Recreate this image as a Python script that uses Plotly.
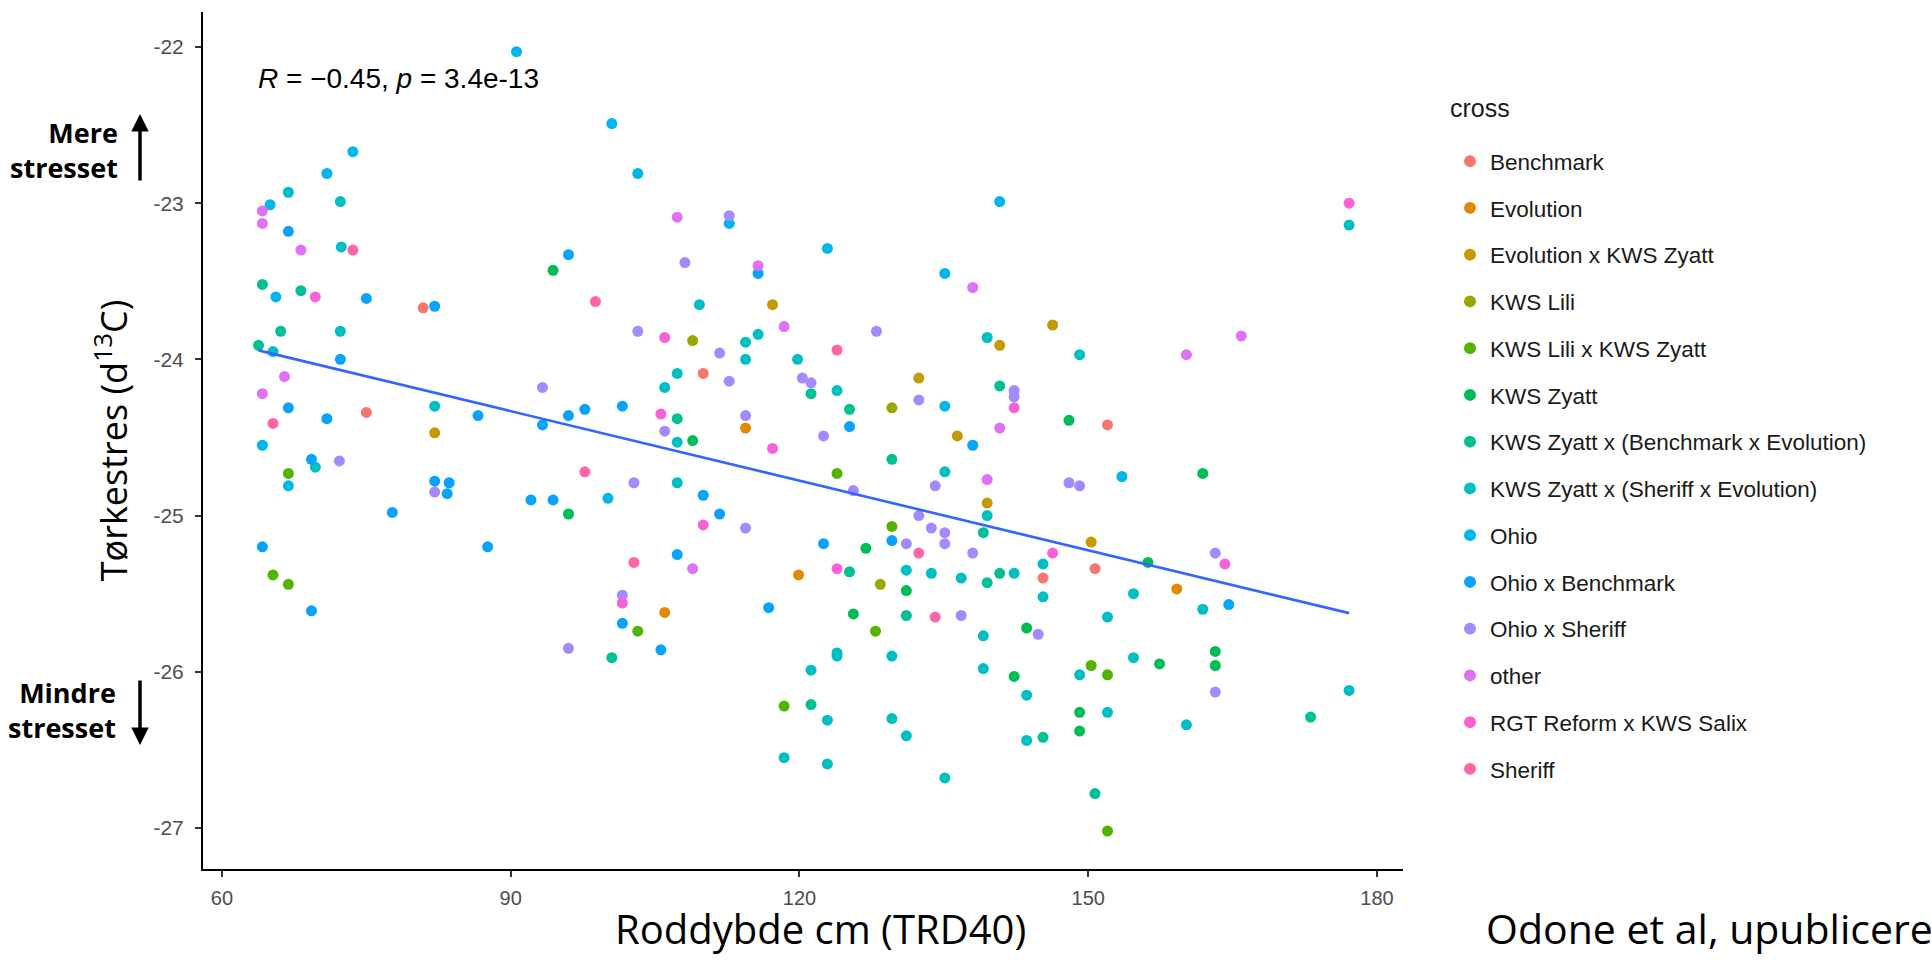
import numpy as np
import plotly.graph_objects as go

# ---------------- data ----------------
categories = ["Benchmark", "Evolution", "Evolution x KWS Zyatt", "KWS Lili",
              "KWS Lili x KWS Zyatt", "KWS Zyatt",
              "KWS Zyatt x (Benchmark x Evolution)", "KWS Zyatt x (Sheriff x Evolution)",
              "Ohio", "Ohio x Benchmark", "Ohio x Sheriff", "other",
              "RGT Reform x KWS Salix", "Sheriff"]
colors = ["#F8766D", "#E38900", "#C49A00", "#99A800", "#53B400", "#00BC56",
          "#00C094", "#00BFC4", "#00B6EB", "#06A4FF", "#A58AFF", "#DF70F8",
          "#FB61D7", "#FF66A8"]

bm_x = [80.9, 75.0, 110.0, 145.3, 150.7, 152.0]
bm_y = [-23.67, -24.34, -24.09, -25.40, -25.34, -24.42]

ev_x = [114.4, 119.9, 106.0, 159.2]
ev_y = [-24.44, -25.38, -25.62, -25.47]

evz_x = [82.1, 117.2, 146.3, 140.8, 132.4, 136.4, 139.5, 150.3]
evz_y = [-24.47, -23.65, -23.78, -23.91, -24.12, -24.49, -24.92, -25.17]

li_x = [108.9, 129.6, 128.4]
li_y = [-23.88, -24.31, -25.44]

liz_x = [66.9, 65.3, 66.9, 103.2, 118.4, 123.9, 129.6, 127.9, 150.3, 152.0, 152.0]
liz_y = [-24.73, -25.38, -25.44, -25.74, -26.22, -24.73, -25.07, -25.74, -25.96, -26.02, -27.02]

zy_x = [94.4, 108.9, 96.0, 148.0, 126.9, 131.1, 125.6, 143.6, 142.3, 149.1, 149.1,
        161.9, 156.2, 157.4, 163.2, 163.2]
zy_y = [-23.43, -24.52, -24.99, -24.39, -25.21, -25.48, -25.63, -25.72, -26.03, -26.26, -26.38,
        -24.73, -25.30, -25.95, -25.87, -25.96]

zbe_x = [64.2, 68.2, 66.1, 63.8, 107.3, 100.5, 121.2, 125.2, 140.8, 129.6, 139.1, 125.2,
         139.5, 140.8, 131.1, 121.2, 145.3, 150.7, 173.1]
zbe_y = [-23.52, -23.56, -23.82, -23.91, -24.38, -25.91, -24.22, -24.32, -24.17, -24.64, -25.11, -25.36,
         -25.43, -25.37, -25.64, -26.21, -26.42, -26.78, -26.29]

zse_x = [66.9, 72.3, 72.4, 72.3, 65.3, 82.1, 69.7, 109.6, 114.4, 115.7, 114.4, 119.8,
         107.3, 106.0, 107.3, 107.3, 118.4, 139.5, 149.1, 123.9, 135.1, 139.5, 131.1, 133.7,
         136.8, 142.3, 145.3, 145.3, 139.1, 123.9, 123.9, 129.6, 121.2, 139.1, 149.1, 143.6,
         122.9, 129.6, 131.1, 143.6, 122.9, 135.1, 154.7, 152.0, 161.9, 154.7, 152.0, 160.2,
         177.1, 177.1]
zse_y = [-22.93, -22.99, -23.28, -23.82, -23.95, -24.30, -24.69, -23.65, -23.89, -23.84, -24.00, -24.00,
         -24.09, -24.18, -24.53, -24.79, -26.55, -23.86, -23.97, -24.20, -24.72, -25.00, -25.35, -25.37,
         -25.40, -25.37, -25.31, -25.52, -25.77, -25.88, -25.90, -25.90, -25.99, -25.98, -26.02, -26.15,
         -26.31, -26.30, -26.41, -26.44, -26.59, -26.68, -25.50, -25.65, -25.60, -25.91, -26.26, -26.34,
         -26.12, -23.14]

oh_x = [73.6, 70.9, 65.0, 65.6, 64.2, 66.9, 90.6, 100.5, 103.2, 112.7, 100.1, 140.8,
        122.9, 135.1, 135.1, 153.5]
oh_y = [-22.67, -22.81, -23.01, -23.60, -24.55, -24.81, -22.03, -22.49, -22.81, -23.13, -24.89, -22.99,
        -23.29, -23.45, -24.30, -24.75]

ob_x = [66.9, 75.0, 82.1, 72.3, 66.9, 70.9, 86.6, 69.3, 82.1, 83.6, 83.4, 77.7, 64.2, 69.3,
        87.6, 96.0, 115.7, 101.6, 97.7, 96.0, 93.3, 92.1, 94.4, 110.0, 111.7, 107.3, 116.8,
        101.6, 105.6, 125.2, 138.0, 129.6, 122.5, 164.6]
ob_y = [-23.18, -23.61, -23.66, -24.00, -24.31, -24.38, -24.36, -24.64, -24.78, -24.79, -24.86, -24.98, -25.20, -25.61,
        -25.20, -23.33, -23.45, -24.30, -24.32, -24.36, -24.42, -24.90, -24.90, -24.87, -24.99, -25.25, -25.59,
        -25.69, -25.86, -24.43, -24.55, -25.16, -25.18, -25.57]

os_x = [72.2, 82.1, 112.7, 108.1, 103.2, 111.7, 112.7, 120.3, 121.2, 93.3, 114.4, 106.0,
        102.8, 114.4, 101.6, 96.0, 128.0, 132.4, 142.3, 142.3, 122.5, 134.1, 148.0, 149.1,
        125.6, 132.4, 133.7, 135.1, 135.1, 131.1, 138.0, 136.8, 144.8, 163.2, 163.2]
os_y = [-24.65, -24.85, -23.08, -23.38, -23.82, -23.96, -24.14, -24.12, -24.15, -24.18, -24.36, -24.46,
        -24.79, -25.08, -25.51, -25.85, -23.82, -24.26, -24.20, -24.24, -24.49, -24.81, -24.79, -24.81,
        -24.84, -25.00, -25.08, -25.11, -25.18, -25.18, -25.24, -25.64, -25.76, -25.24, -26.13]

ot_x = [64.2, 64.2, 68.2, 66.5, 64.2, 107.3, 115.7, 118.4, 108.9, 138.0, 140.8, 139.5, 165.9, 160.2]
ot_y = [-23.05, -23.13, -23.30, -24.11, -24.22, -23.09, -23.40, -23.79, -25.34, -23.54, -24.44, -24.77, -23.85, -23.97]

rgt_x = [69.7, 106.0, 105.6, 117.2, 110.0, 101.6, 142.3, 123.9, 146.3, 164.2, 177.1]
rgt_y = [-23.60, -23.86, -24.35, -24.57, -25.06, -25.56, -24.31, -25.34, -25.24, -25.31, -23.00]

sh_x = [73.6, 65.3, 98.8, 97.7, 102.8, 123.9, 132.4, 134.1]
sh_y = [-23.30, -24.41, -23.63, -24.72, -25.30, -23.94, -25.24, -25.65]

x_ticks = [60, 90, 120, 150, 180]
y_ticks = [-27, -26, -25, -24, -23, -22]
y_tick_text = ["-27", "-26", "-25", "-24", "-23", "-22"]

stat_text = "<i>R</i> = \u22120.45, <i>p</i> = 3.4e-13"

# ---------------- figure ----------------
series = [(bm_x, bm_y), (ev_x, ev_y), (evz_x, evz_y), (li_x, li_y), (liz_x, liz_y),
          (zy_x, zy_y), (zbe_x, zbe_y), (zse_x, zse_y), (oh_x, oh_y), (ob_x, ob_y),
          (os_x, os_y), (ot_x, ot_y), (rgt_x, rgt_y), (sh_x, sh_y)]

fig = go.Figure()

for name, col, (xs, ys) in zip(categories, colors, series):
    fig.add_trace(go.Scatter(
        x=xs, y=ys, mode="markers", name=name, legendgroup=name,
        marker=dict(color=col, size=11, line=dict(width=0)),
    ))

# linear fit through all points
all_x = np.concatenate([np.asarray(s[0], float) for s in series])
all_y = np.concatenate([np.asarray(s[1], float) for s in series])
slope, intercept = np.polyfit(all_x, all_y, 1)
fx = np.linspace(all_x.min(), all_x.max(), 80)
fig.add_trace(go.Scatter(x=fx, y=slope * fx + intercept, mode="lines",
                         line=dict(color="#3366FF", width=2.6),
                         showlegend=False, hoverinfo="skip"))

W, H = 1931, 964
L, R, T, B = 203, 528, 12, 95
pw, ph = W - L - R, H - T - B


def px_x(p):
    return (p - L) / pw


def px_y(p):
    return (H - B - p) / ph


ann_font = "Open Sans, Noto Sans, sans-serif"

fig.update_layout(
    width=W, height=H,
    margin=dict(l=L, r=R, t=T, b=B, pad=0),
    paper_bgcolor="white", plot_bgcolor="white",
    font=dict(family="Liberation Sans, Arial, sans-serif", color="#1a1a1a"),
    showlegend=True,
    legend=dict(
        font=dict(size=22.5, color="#1a1a1a"),
        x=px_x(1450), xanchor="left", y=px_y(140), yanchor="top",
        tracegroupgap=14.5, itemsizing="constant", bgcolor="rgba(0,0,0,0)",
    ),
    xaxis=dict(
        range=[58.03, 182.7], tickvals=x_ticks, showgrid=False, zeroline=False,
        showline=True, linecolor="black", linewidth=2, ticks="outside", ticklen=6,
        tickcolor="#333333", tickwidth=1.5,
        tickfont=dict(size=20, color="#4D4D4D"), ticklabelstandoff=4,
    ),
    yaxis=dict(
        range=[-27.263, -21.776], tickvals=y_ticks, ticktext=y_tick_text,
        showgrid=False, zeroline=False,
        showline=True, linecolor="black", linewidth=2, ticks="outside", ticklen=6,
        tickcolor="#333333", tickwidth=1.5,
        tickfont=dict(size=21, color="#4D4D4D"), ticklabelstandoff=7,
        title=dict(text="Tørkestres (d<sup>13</sup>C)", standoff=15,
                   font=dict(size=36, color="black", family=ann_font)),
        automargin=False,
    ),
)

annotations = [
    dict(text="cross", x=px_x(1448), y=px_y(108), xref="paper", yref="paper",
         xanchor="left", yanchor="middle", showarrow=False,
         font=dict(size=25, color="#1a1a1a", family="Liberation Sans, Arial, sans-serif")),
    dict(text=stat_text, x=px_x(256), y=px_y(78), xref="paper", yref="paper",
         xanchor="left", yanchor="middle", showarrow=False,
         font=dict(size=28, color="black", family="Liberation Sans, Arial, sans-serif")),
    dict(text="Roddybde cm (TRD40)", x=px_x(820), y=px_y(928), xref="paper", yref="paper",
         xanchor="center", yanchor="middle", showarrow=False,
         font=dict(size=40, color="black", family=ann_font)),
    dict(text="Odone et al, upubliceret", x=px_x(1484), y=px_y(928), xref="paper", yref="paper",
         xanchor="left", yanchor="middle", showarrow=False,
         font=dict(size=41, color="black", family=ann_font)),
    dict(text="<b>Mere<br>stresset</b>", x=px_x(120), y=px_y(150), xref="paper", yref="paper",
         xanchor="right", yanchor="middle", align="right", showarrow=False,
         font=dict(size=27, color="black", family=ann_font)),
    dict(text="<b>Mindre<br>stresset</b>", x=px_x(118), y=px_y(710), xref="paper", yref="paper",
         xanchor="right", yanchor="middle", align="right", showarrow=False,
         font=dict(size=27, color="black", family=ann_font)),
    dict(text="", x=px_x(140), y=px_y(114), xref="paper", yref="paper",
         showarrow=True, ax=0, ay=68, arrowhead=2, arrowsize=1, arrowwidth=3.5,
         arrowcolor="black"),
    dict(text="", x=px_x(140), y=px_y(745), xref="paper", yref="paper",
         showarrow=True, ax=0, ay=-66, arrowhead=2, arrowsize=1, arrowwidth=3.5,
         arrowcolor="black"),
]
fig.update_layout(annotations=annotations)

fig.write_html("out.html")
